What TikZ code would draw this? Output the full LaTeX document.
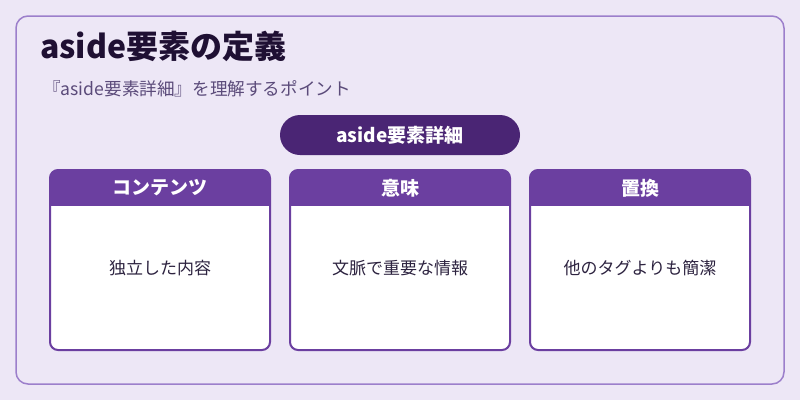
\documentclass[tikz,border=0pt]{standalone}
\usepackage{fontspec}
\setmainfont{Noto Sans CJK JP}
\definecolor{bgc}{HTML}{EDE7F6}
\definecolor{framec}{HTML}{9C7FCB}
\definecolor{cardc}{HTML}{6B3FA0}
\definecolor{pillc}{HTML}{4A2574}
\definecolor{titlec}{HTML}{1F1033}
\definecolor{subc}{HTML}{5B4B7A}
\definecolor{bodyc}{HTML}{2D2340}
\tikzset{
  cardbox/.style={draw=cardc, line width=2pt, rounded corners=8pt},
  headtext/.style={text=white, font=\fontsize{19}{21}\selectfont\bfseries, anchor=center, inner sep=0},
  bodytext/.style={text=bodyc, font=\fontsize{17}{19}\selectfont, anchor=center, inner sep=0},
}
\begin{document}
\begin{tikzpicture}[x=1pt,y=-1pt]
\useasboundingbox (0,0) rectangle (800,400);
\fill[bgc] (0,0) rectangle (800,400);
\draw[framec, line width=1.5pt, rounded corners=12pt] (16,16) rectangle (784,384);
\node[anchor=base west, text=titlec, font=\fontsize{32}{34}\selectfont\bfseries, inner sep=0] (title) at (40,58) {aside要素の定義};
\node[anchor=base west, text=subc, font=\fontsize{17.6}{19}\selectfont, inner sep=0] (sub) at (43,95) {『aside要素詳細』を理解するポイント};
\fill[pillc, rounded corners=20pt] (280,115) rectangle (520,155);
\node[text=white, font=\fontsize{19}{20}\selectfont\bfseries] (pill) at (400,135) {aside要素詳細};
\foreach \x/\h/\b/\n in {50/コンテンツ/独立した内容/a, 290/意味/文脈で重要な情報/b, 530/置換/他のタグよりも簡潔/c}{
  \begin{scope}
    \path[clip, rounded corners=8pt] (\x,170) rectangle (\x+220,350);
    \fill[white] (\x,170) rectangle (\x+220,350);
    \fill[cardc] (\x,170) rectangle (\x+220,206);
  \end{scope}
  \draw[cardbox] (\x,170) rectangle (\x+220,350);
  \node[headtext] (h\n) at (\x+110,188) {\h};
  \node[bodytext] (b\n) at (\x+110,268) {\b};
}
\end{tikzpicture}
\end{document}
